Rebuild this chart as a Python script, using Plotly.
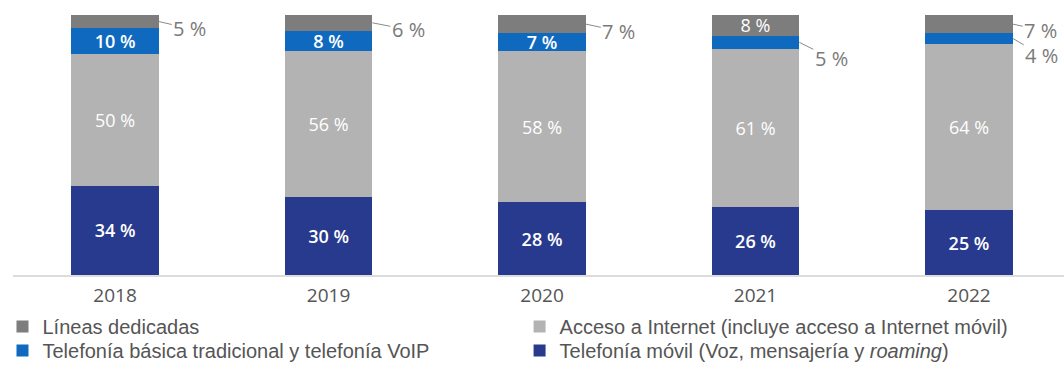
import plotly.graph_objects as go

years = ["2018", "2019", "2020", "2021", "2022"]
movil = [34, 30, 28, 26, 25]
internet = [50, 56, 58, 61, 64]
basica = [10, 8, 7, 5, 4]
dedicadas = [5, 6, 7, 8, 7]

names = {
    "movil": "Telefonía móvil (Voz, mensajería y <i>roaming</i>)",
    "internet": "Acceso a Internet (incluye acceso a Internet móvil)",
    "basica": "Telefonía básica tradicional y telefonía VoIP",
    "dedicadas": "Líneas dedicadas",
}
colors = {"movil": "#283a8e", "internet": "#b3b3b3", "basica": "#0f6abf", "dedicadas": "#7d7d7d"}
series = {"movil": movil, "internet": internet, "basica": basica, "dedicadas": dedicadas}
# labels drawn outside the bar with a leader line: (series, year index) -> (ax, ay)
outside = {("dedicadas", 0): (31, 7), ("dedicadas", 1): (36, 7), ("dedicadas", 2): (33, 7),
           ("basica", 3): (32, 16), ("dedicadas", 4): (28, 6), ("basica", 4): (29, 17)}
# one legend per entry so that the two-column layout can be placed freely
legend_of = {"dedicadas": "legend", "basica": "legend2", "internet": "legend3", "movil": "legend4"}

BW = 0.41
FONT = "Open Sans"
LFONT = "Liberation Sans"
TXT = "#555555"
fig = go.Figure()
for key in ["movil", "internet", "basica", "dedicadas"]:
    vals = series[key]
    txt = ["" if (key, i) in outside else f"{v} %" for i, v in enumerate(vals)]
    fig.add_trace(go.Bar(
        x=years, y=vals, name=names[key], marker=dict(color=colors[key], line=dict(width=0)),
        width=BW, text=txt, textposition="inside", insidetextanchor="middle", textangle=0,
        textfont=dict(color="white", size=18, family=FONT, weight=600 if key in ("movil", "basica") else 400),
        legend=legend_of[key], hoverinfo="skip",
    ))

order = ["movil", "internet", "basica", "dedicadas"]
for i in range(len(years)):
    total = sum(series[k][i] for k in order)
    cum = 0
    for k in order:
        v = series[k][i]
        mid = (cum + v / 2) / total * 100
        cum += v
        if (k, i) in outside:
            ax, ay = outside[(k, i)]
            fig.add_annotation(x=i + BW / 2, y=mid, xref="x", yref="y", text=f"{v} %",
                               showarrow=True, arrowhead=0, arrowwidth=1, arrowcolor="#8a8a8a",
                               ax=ax, ay=ay, standoff=0,
                               font=dict(size=20, color="#7a7a7a", family=FONT))

leg_common = dict(orientation="v", xanchor="left", yanchor="middle",
                  font=dict(size=20, color=TXT, family=LFONT), tracegroupgap=0,
                  itemclick=False, itemdoubleclick=False, bgcolor="rgba(0,0,0,0)")
row1, row2 = -0.198, -0.29
colL, colR = -0.01, 0.482

fig.update_layout(
    width=1064, height=367, barmode="stack", barnorm="percent",
    margin=dict(l=13, r=0, t=15, b=92, autoexpand=False),
    paper_bgcolor="white", plot_bgcolor="white",
    uniformtext=dict(minsize=18, mode="show"),
    font=dict(family=FONT, color=TXT),
    xaxis=dict(type="category", range=[-0.478, 4.445], showgrid=False, showline=True,
               linecolor="#dcdcdc", linewidth=2, ticks="", tickfont=dict(size=19, color=TXT),
               ticklabelstandoff=2, fixedrange=True),
    yaxis=dict(range=[0, 100], visible=False, fixedrange=True),
    legend=dict(x=colL, y=row1, **leg_common),
    legend2=dict(x=colL, y=row2, **leg_common),
    legend3=dict(x=colR, y=row1, **leg_common),
    legend4=dict(x=colR, y=row2, **leg_common),
    showlegend=True,
)
fig.write_html("out.html")
